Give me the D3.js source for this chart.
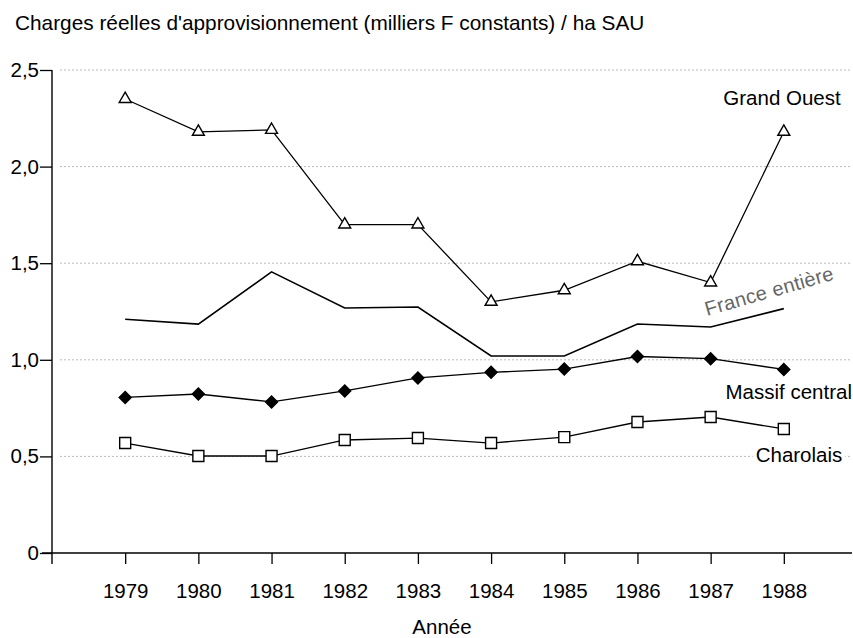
<!DOCTYPE html>
<html>
<head>
<meta charset="utf-8">
<script src="https://cdn.jsdelivr.net/npm/d3@7"></script>
<style>
	body { margin: 0; background: #fff; }
	svg text { font-family: "Liberation Sans", Arial, sans-serif; }
</style>
</head>
<body>
<div id="chart"></div>
<script>
// values
var years = [1979, 1980, 1981, 1982, 1983, 1984, 1985, 1986, 1987, 1988];
var grandOuest = [2.35, 2.18, 2.19, 1.70, 1.70, 1.30, 1.36, 1.51, 1.40, 2.18];
var franceEntiere = [1.21, 1.185, 1.455, 1.268, 1.273, 1.02, 1.02, 1.185, 1.17, 1.265];
var massifCentral = [0.805, 0.823, 0.782, 0.839, 0.906, 0.935, 0.952, 1.017, 1.006, 0.95];
var charolais = [0.569, 0.502, 0.502, 0.585, 0.595, 0.569, 0.60, 0.678, 0.704, 0.642];
var yTicks = [0, 0.5, 1.0, 1.5, 2.0, 2.5];

var W = 853, H = 638;
var FS = '20.5px';

var svg = d3.select('#chart').append('svg')
	.attr('width', W)
	.attr('height', H);

var x = d3.scaleLinear().domain([1978, 1989]).range([52, 857]);
var y = d3.scaleLinear().domain([0, 2.5]).range([553, 70]);

function fmt(v) {
	return v === 0 ? '0' : d3.format('.1f')(v).replace('.', ',');
}

// title
svg.append('text')
	.attr('x', 15).attr('y', 30)
	.style('font-size', '20.8px')
	.text("Charges réelles d'approvisionnement (milliers F constants) / ha SAU");

// dotted gridlines
svg.append('g').selectAll('line')
	.data(yTicks.filter(function(t) { return t > 0; }))
	.join('line')
	.attr('x1', 60).attr('x2', 852)
	.attr('y1', function(d) { return y(d); })
	.attr('y2', function(d) { return y(d); })
	.attr('stroke', '#a8a8a8')
	.attr('stroke-width', 0.8)
	.attr('stroke-dasharray', '2,2');

// axes
var yAxis = svg.append('g')
	.attr('transform', 'translate(52,0)')
	.call(d3.axisLeft(y).tickValues(yTicks).tickFormat(fmt).tickSize(12).tickPadding(1).tickSizeOuter(0));
yAxis.select('.domain').remove();
yAxis.selectAll('line').attr('stroke', '#000').attr('stroke-width', 1.3);
yAxis.selectAll('text').style('font-size', FS).style('font-family', '"Liberation Sans", Arial, sans-serif');

var xAxis = svg.append('g')
	.attr('transform', 'translate(0,553)')
	.call(d3.axisBottom(x).tickValues(years).tickFormat(d3.format('d')).tickSize(11).tickPadding(19).tickSizeOuter(0));
xAxis.select('.domain').remove();
xAxis.selectAll('line').attr('stroke', '#000').attr('stroke-width', 1.3);
xAxis.selectAll('text').style('font-size', FS).style('font-family', '"Liberation Sans", Arial, sans-serif');

svg.append('line')
	.attr('x1', 52).attr('x2', 52).attr('y1', y(2.5)).attr('y2', 564)
	.attr('stroke', '#000').attr('stroke-width', 1.4);
svg.append('line')
	.attr('x1', 42).attr('x2', 852).attr('y1', y(0)).attr('y2', y(0))
	.attr('stroke', '#000').attr('stroke-width', 1.4);

svg.append('text')
	.attr('x', 442).attr('y', 634)
	.attr('text-anchor', 'middle')
	.style('font-size', FS)
	.text('Année');

// series
var line = d3.line()
	.x(function(d, i) { return x(years[i]); })
	.y(function(d) { return y(d); });

function drawSeries(values, width) {
	svg.append('path')
		.datum(values)
		.attr('d', line)
		.attr('fill', 'none')
		.attr('stroke', '#000')
		.attr('stroke-width', width);
}

function drawMarkers(values, type, size, filled, rotate) {
	svg.append('g').selectAll('path')
		.data(values)
		.join('path')
		.attr('d', d3.symbol().type(type).size(size))
		.attr('transform', function(d, i) {
			return 'translate(' + x(years[i]) + ',' + y(d) + ')' + (rotate ? ' rotate(45)' : '');
		})
		.attr('fill', filled ? '#000' : '#fff')
		.attr('stroke', '#000')
		.attr('stroke-width', 1.4);
}

drawSeries(franceEntiere, 1.6);
drawSeries(grandOuest, 1.3);
drawSeries(massifCentral, 1.3);
drawSeries(charolais, 1.3);

drawMarkers(grandOuest, d3.symbolTriangle, 62, false, false);
drawMarkers(massifCentral, d3.symbolSquare, 72, true, true);
drawMarkers(charolais, d3.symbolSquare, 121, false, false);

// series labels
svg.append('text')
	.attr('x', 782).attr('y', 105)
	.attr('text-anchor', 'middle')
	.style('font-size', FS)
	.text('Grand Ouest');

svg.append('text')
	.attr('transform', 'translate(707,316) rotate(-16)')
	.attr('fill', '#666')
	.style('font-size', '20px')
	.style('letter-spacing', '0.3px')
	.text('France entière');

svg.append('text')
	.attr('x', 852).attr('y', 399)
	.attr('text-anchor', 'end')
	.style('font-size', FS)
	.text('Massif central');

var charo = svg.append('g');
var charoText = charo.append('text')
	.attr('x', 799).attr('y', 462)
	.attr('text-anchor', 'middle')
	.style('font-size', FS)
	.text('Charolais');
var bb = charoText.node().getBBox();
charo.insert('rect', 'text')
	.attr('x', bb.x - 3).attr('y', bb.y)
	.attr('width', bb.width + 6).attr('height', bb.height)
	.attr('fill', '#fff');
</script>
</body>
</html>
